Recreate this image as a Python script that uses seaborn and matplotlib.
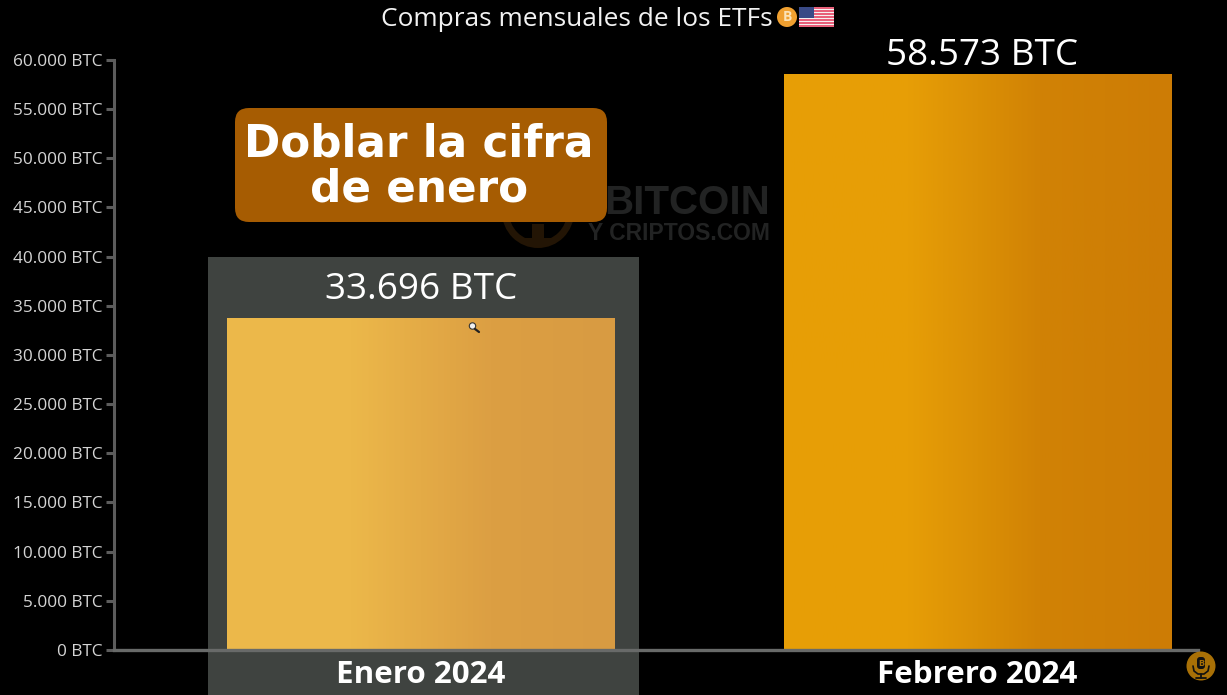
import numpy as np
import pandas as pd
import matplotlib
matplotlib.use("Agg")
import matplotlib.pyplot as plt
from matplotlib.colors import LinearSegmentedColormap
from matplotlib.patches import Rectangle, FancyBboxPatch, Circle
import seaborn as sns

# ---- data ----
months = ["Enero 2024", "Febrero 2024"]
btc_values = [33696, 58573]
value_labels = ["33.696 BTC", "58.573 BTC"]
y_ticks = [0, 5000, 10000, 15000, 20000, 25000, 30000, 35000, 40000, 45000, 50000, 55000, 60000]
y_tick_labels = ["0 BTC", "5.000 BTC", "10.000 BTC", "15.000 BTC", "20.000 BTC", "25.000 BTC", "30.000 BTC",
                 "35.000 BTC", "40.000 BTC", "45.000 BTC", "50.000 BTC", "55.000 BTC", "60.000 BTC"]
title_text = "Compras mensuales de los ETFs"
callout_text = "Doblar la cifra\nde enero"

W, H = 1227, 695
sns.set_theme(style="dark")
plt.rcParams["font.family"] = ["Open Sans", "DejaVu Sans"]

fig = plt.figure(figsize=(W / 100, H / 100), dpi=100, facecolor="black")

# under-layer in pixel coordinates (highlight box, watermark)
under = fig.add_axes([0, 0, 1, 1], zorder=0)
under.set_xlim(0, W); under.set_ylim(H, 0); under.axis("off")
under.add_patch(Rectangle((208, 257), 431, 438, color="#3f4340", lw=0))

under.text(770, 214, "BITCOIN", color="#222323", fontsize=29, fontweight="bold", ha="right", va="baseline",
           family="Liberation Sans")
under.text(770, 239.5, "Y CRIPTOS.COM", color="#222323", fontsize=16.5, fontweight="bold", ha="right", va="baseline",
           family="Liberation Sans")
under.add_patch(Circle((538, 212), 36, color="#231505", lw=0))
under.add_patch(Circle((538, 212), 29, color="black", lw=0))
under.add_patch(Rectangle((532, 224), 12, 14, color="#231505", lw=0))
under.add_patch(Rectangle((525, 238), 26, 5, color="#231505", lw=0))

# main axes
ax = fig.add_axes([114 / W, (H - 650) / H, (1198 - 114) / W, 590 / H], zorder=1)
ax.patch.set_alpha(0)
df = pd.DataFrame({"mes": months, "btc": btc_values})
sns.barplot(data=df, x="mes", y="btc", ax=ax, width=0.697, color="#e89f06", saturation=1, edgecolor="none", linewidth=0)

ax.set_xlim(-307 / 556.5, 777 / 556.5)
ax.set_ylim(0, 60000)
ax.set_xlabel(""); ax.set_ylabel("")
ax.set_yticks(y_ticks, y_tick_labels)
ax.grid(False)

for s in ["top", "right"]:
    ax.spines[s].set_visible(False)
ax.spines["left"].set_color("#5c5c5c"); ax.spines["left"].set_linewidth(2.2)
ax.spines["bottom"].set_color("#686a69"); ax.spines["bottom"].set_linewidth(2.4)
ax.tick_params(axis="y", length=6, width=2.2, color="#5c5c5c", labelcolor="#d4d4d4", labelsize=12.4, pad=2, left=True)
ax.tick_params(axis="x", length=0, labelcolor="white", labelsize=22.6, pad=7)
for t in ax.get_xticklabels():
    t.set_fontweight("bold")

# gradient fills on seaborn's bars
grads = [
    [(0, "#edb94b"), (0.32, "#ecb84a"), (0.5, "#e4ab46"), (0.68, "#dc9f43"), (1, "#d89b42")],
    [(0, "#e89f06"), (0.32, "#e79e06"), (0.5, "#db9006"), (0.66, "#d18205"), (1, "#cd7c05")],
]
label_offsets = [(0, 29), (5, 18)]
for bar, stops, lab, off in zip(ax.patches, grads, value_labels, label_offsets):
    x0, w, h = bar.get_x(), bar.get_width(), bar.get_height()
    cmap = LinearSegmentedColormap.from_list("g", stops)
    ax.imshow(np.linspace(0, 1, 256)[None, :], extent=(x0, x0 + w, 0, h), cmap=cmap,
              aspect="auto", origin="lower", zorder=bar.get_zorder() + 0.1)
    ax.annotate(lab, (x0 + w / 2, h), xytext=off, textcoords="offset pixels", ha="center", va="center",
                color="white", fontsize=26.6, annotation_clip=False)
ax.set_xlim(-307 / 556.5, 777 / 556.5)
ax.set_ylim(0, 60000)

fig.suptitle(title_text, x=577 / W, y=1 - 19 / H, ha="center", va="center", color="#f2f2f2", fontsize=18.9)

# over-layer in pixel coordinates
over = fig.add_axes([0, 0, 1, 1], zorder=2)
over.set_xlim(0, W); over.set_ylim(H, 0); over.axis("off"); over.patch.set_alpha(0)

# callout
over.add_patch(FancyBboxPatch((249, 122), 344, 86, boxstyle="round,pad=14,rounding_size=14",
                              fc="#a65c02", ec="none"))
over.text(419, 166.5, callout_text, color="white", fontsize=31.5, fontweight="bold", ha="center", va="center",
          linespacing=1.07, family="DejaVu Sans")

# bitcoin coin
over.add_patch(Circle((787, 17), 10, color="#f0a030", lw=0))
over.text(787, 17, "B", color="#fbe3b8", fontsize=10, fontweight="bold", ha="center", va="center")

# US flag
for i in range(13):
    over.add_patch(Rectangle((799, 7 + i * 20 / 13), 35, 20 / 13, color="#e8607a" if i % 2 == 0 else "#f5f0f0", lw=0))
over.add_patch(Rectangle((799, 7), 15, 10.5, color="#3a4a86", lw=0))

# magnifier cursor
over.add_patch(Circle((472.5, 326), 3.2, fc="#f0f0f0", ec="#333333", lw=0.8))
over.plot([475, 479], [329, 332], color="#222222", lw=1.6)

# mic badge
over.add_patch(Circle((1201, 666), 14.5, color="#a87006", lw=0))
over.add_patch(FancyBboxPatch((1198, 658), 6, 10, boxstyle="round,pad=1,rounding_size=3", fc="#111111", ec="none"))
over.text(1201, 663, "B", color="#a87006", fontsize=6.5, fontweight="bold", ha="center", va="center")
over.plot([1193, 1194, 1198, 1204, 1208, 1209], [666, 671, 674, 674, 671, 666], color="#111111", lw=1.2)
over.plot([1201, 1201], [674, 678], color="#111111", lw=1.3)
over.plot([1196, 1206], [678, 678], color="#111111", lw=1.3)

fig.savefig("out.png", dpi=100, facecolor="black")
